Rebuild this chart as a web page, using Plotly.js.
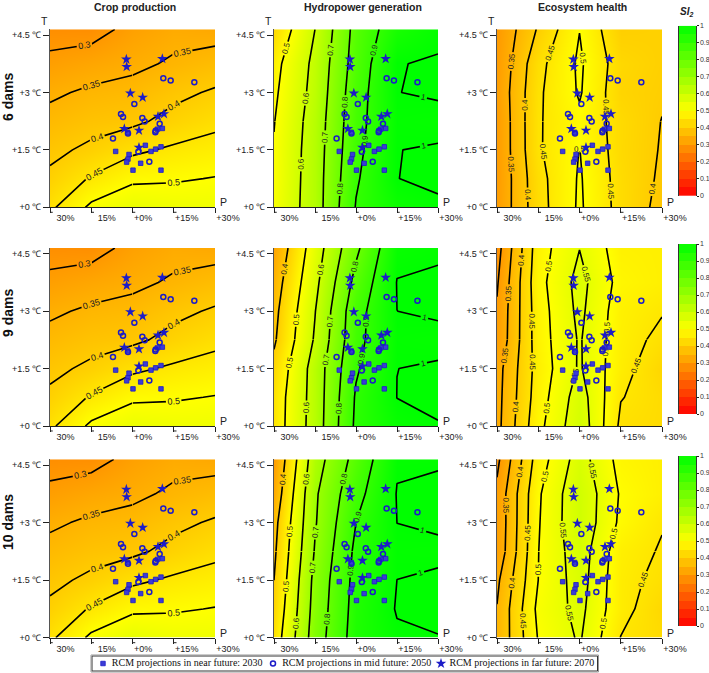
<!DOCTYPE html>
<html><head><meta charset="utf-8">
<script src="https://cdn.plot.ly/plotly-3.0.1.min.js"></script>
<style>html,body{margin:0;padding:0;background:#fff}</style></head>
<body><div id="chart" style="width:709px;height:673px"></div>
<script>
// Climate axis values
const precipChange = [-30,-15,0,15,30];
const tempChange = [0,0.75,1.5,2.25,3,3.75,4.65];
const columnTitles = ["Crop production","Hydropower generation","Ecosystem health"];
const rowTitles = ["6 dams","9 dams","10 dams"];
const precipTickLabels = ["\u00a0\u00a030%","\u00a0\u00a015%","+0%\u00a0\u00a0","+15%","+30%"];
const tempTickValues = [0,1.5,3,4.5];
const tempTickLabels = ["+0 ℃","+1.5 ℃","+3 ℃","+4.5 ℃"];
const legendNames = ["RCM projections in near future: 2030","RCM projections in mid future: 2050","RCM projections in far future: 2070"];

// RCM projections (precipitation change %, temperature change deg C)
const nearP = [-6.12,-1.27,-1.64,-2.12,0.18,2.97,10.36,6.73,8.42,10.36,4.67,10.85,9.03,-1.76];
const nearT = [1.46,1.38,1.26,1.18,0.97,1.15,0.97,1.46,1.52,1.58,1.62,2.06,2.04,1.96];
const midP = [11.2,13.88,22.48,0.67,-4.18,-3.45,3.58,4.42,9.88,8.42,8.3,-7.1,-1.64,2.12,6.12];
const midT = [3.37,3.31,3.27,2.70,2.44,2.36,2.33,2.24,2.18,2.00,1.96,1.80,1.93,1.45,1.19];
const farP = [-2.24,-2.12,10.85,-0.79,3.7,9.27,11.45,-2.97,2.36,2.36];
const farT = [3.865,3.67,3.88,2.98,2.87,2.37,2.44,2.05,2.01,1.56];

// SI2 grids: one row per temperature, one column per precipitation change
const crop6 = [
 [.44,.51,.54,.53,.53],[.41,.455,.49,.495,.502],[.388,.41,.44,.458,.47],[.365,.382,.39,.415,.437],
 [.342,.358,.365,.388,.406],[.312,.326,.34,.356,.371],[.28,.28,.315,.335,.33]];
const crop9 = [
 [.44,.51,.54,.53,.53],[.41,.455,.49,.495,.502],[.388,.41,.44,.458,.47],[.365,.382,.39,.415,.437],
 [.342,.358,.365,.388,.406],[.312,.326,.34,.356,.371],[.28,.28,.315,.335,.33]];
const crop10 = [
 [.44,.51,.545,.53,.53],[.41,.455,.49,.495,.502],[.388,.41,.44,.458,.47],[.365,.382,.39,.415,.437],
 [.342,.358,.366,.388,.406],[.312,.328,.34,.358,.372],[.28,.282,.315,.335,.33]];
const hydro6 = [
 [.515,.65,.905,.975,.993],[.507,.65,.89,.9995,1.008],[.505,.647,.876,.9995,1.003],[.497,.642,.866,.995,.99],
 [.485,.63,.858,.9995,1.004],[.472,.622,.843,.9985,1.004],[.425,.6,.832,.953,.99]];
const hydro9 = [
 [.448,.643,.918,.985,.997],[.445,.64,.91,1.0005,1.012],[.424,.64,.89,.9998,1.004],[.388,.61,.872,.995,.99],
 [.375,.597,.865,.9999,1.005],[.354,.575,.83,1.002,1.008],[.322,.55,.78,.985,.992]];
const hydro10 = [
 [.444,.748,.944,.992,.998],[.42,.736,.937,1.004,1.014],[.4,.727,.93,1.0001,1.006],[.384,.707,.92,.995,.992],
 [.37,.692,.90,1.0001,1.006],[.335,.686,.87,1.003,1.012],[.306,.656,.833,.993,.994]];
const eco6 = [
 [.307,.431,.507,.433,.386],[.305,.434,.505,.431,.393],[.305,.444,.501,.427,.397],[.305,.445,.49,.428,.399],
 [.31,.442,.505,.418,.405],[.305,.435,.508,.424,.408],[.302,.405,.499,.406,.41]];
const eco9 = [
 [.335,.485,.585,.44,.43],[.333,.475,.575,.452,.43],[.33,.47,.556,.466,.42],[.308,.476,.555,.47,.438],
 [.305,.477,.562,.473,.453],[.295,.483,.567,.483,.47],[.28,.477,.549,.474,.47]];
const eco10 = [
 [.355,.503,.556,.449,.43],[.352,.512,.565,.464,.423],[.34,.5,.573,.464,.438],[.313,.499,.578,.47,.446],
 [.31,.496,.59,.49,.453],[.311,.493,.59,.495,.47],[.288,.475,.573,.483,.47]];

const grids = [[crop6,hydro6,eco6],[crop9,hydro9,eco9],[crop10,hydro10,eco10]];
const contourStart = [[.3,.5,.35],[.3,.4,.3],[.3,.4,.3]];
const contourStep = [.05,.1,.05];
const contourEnd = [.5,1,.55];
const colorBarLevels = [.025,.075,.125,.175,.225,.275,.325,.375,.425,.475,.525,.575,.625,.675,.725,.775,.825,.875,.925,.975];
const colorBarTicks = [0,.1,.2,.3,.4,.5,.6,.7,.8,.9,1];

const W=709,H=673;
const colPx=[[50,215],[274,438],[497,662]];
const rowPx=[[29.3,207.3],[248,426],[459.3,637.7]];
const barX=[679,696];
const barY=[[25.7,196],[244,414],[456,626]];
const scale=[[0,'#ff0000'],[.5,'#ffff00'],[1,'#00ff00']];
const blue='#1c1cc8';
const axisFont={family:'"Liberation Sans",Arial,sans-serif',size:9,color:'#222'};

const dx=a=>[a[0]/W,a[1]/W], dy=a=>[1-a[1]/H,1-a[0]/H];
const data=[], layout={width:W,height:H,margin:{l:0,r:0,t:0,b:0,autoexpand:false},paper_bgcolor:'#fff',plot_bgcolor:'#fff',
  font:{family:'"Liberation Sans",Arial,sans-serif'},shapes:[],annotations:[],showlegend:false};
const markers=[
 {p:nearP,t:nearT,m:{symbol:'square',size:4.5,color:'#3c3cd6',line:{color:blue,width:.8}}},
 {p:midP,t:midT,m:{symbol:'circle-open',size:5,color:blue,line:{color:blue,width:1.5}}},
 {p:farP,t:farT,m:{symbol:'star',size:8,color:blue,line:{width:0}}}];

let n=0;
rowPx.forEach((rp,r)=>{ colPx.forEach((cp,c)=>{
  n++; const s=n===1?'':String(n), xa='x'+s, ya='y'+s;
  layout['xaxis'+s]={domain:dx(cp),range:[-30,30],anchor:ya,tickmode:'array',tickvals:precipChange,ticktext:precipTickLabels,
    ticks:'outside',ticklen:5,tickwidth:1,tickcolor:'#222',showline:true,linecolor:'#222',linewidth:1,showgrid:false,zeroline:false,
    tickangle:0,tickfont:axisFont,ticklabelshift:13,ticklabelstandoff:-3,fixedrange:true};
  layout['yaxis'+s]={domain:dy(rp),range:[0,4.65],anchor:xa,tickmode:'array',tickvals:tempTickValues,ticktext:tempTickLabels,
    ticks:'outside',ticklen:6,tickwidth:1,tickcolor:'#222',showline:true,linecolor:'#555',linewidth:1,showgrid:false,zeroline:false,
    tickfont:axisFont,fixedrange:true};
  const z=grids[r][c];
  data.push({type:'heatmap',x:precipChange,y:tempChange,z,xaxis:xa,yaxis:ya,zmin:0,zmax:1,zsmooth:'best',
    colorscale:scale,showscale:false,hoverinfo:'skip'});
  // the same grid is contoured in two sections so that each line carries more than one label
  const sections = c===0
    ? [[0,2],[2,4]].map(([a,b])=>({x:precipChange.slice(a,b+1),y:tempChange,z:z.map(row=>row.slice(a,b+1))}))
    : [[0,3],[3,6]].map(([a,b])=>({x:precipChange,y:tempChange.slice(a,b+1),z:z.slice(a,b+1)}));
  sections.forEach(sec=>data.push({type:'contour',x:sec.x,y:sec.y,z:sec.z,xaxis:xa,yaxis:ya,autocontour:false,showscale:false,hoverinfo:'skip',
    contours:{start:contourStart[r][c],end:contourEnd[c],size:contourStep[c],coloring:'none',showlabels:true,labelformat:'.2~f',
      labelfont:{family:'"Liberation Sans",Arial,sans-serif',size:c===0?9:8,color:'#222'}},
    line:{color:'#000',width:1.6,smoothing:0}}));
  markers.forEach((mk,i)=>{
    data.push({type:'scatter',mode:'markers',x:mk.p,y:mk.t,xaxis:xa,yaxis:ya,marker:mk.m,name:legendNames[i],
      cliponaxis:false,hoverinfo:'skip'});
  });
  precipChange.forEach(v=>layout.shapes.push({type:'line',xref:xa,yref:ya+' domain',x0:v,x1:v+1,y0:-.028,y1:-.028,line:{color:'#222',width:1}}));
  const ann=(text,px,py)=>layout.annotations.push({text,xref:'paper',yref:'paper',x:px/W,y:1-py/H,xanchor:'center',yanchor:'middle',showarrow:false,
    font:{size:10.5,color:'#222'}});
  ann('P',cp[1]+8.5,rp[1]-5);
  if(r===0) ann('T',cp[0]-6,21);
});});

columnTitles.forEach((t,i)=>layout.annotations.push({text:'<b>'+t+'</b>',xref:'paper',yref:'paper',x:[135,363,582][i]/W,y:1-7.5/H,
  xanchor:'center',yanchor:'middle',showarrow:false,font:{size:10.5,color:'#222'}}));
rowTitles.forEach((t,i)=>layout.annotations.push({text:'<b>'+t+'</b>',xref:'paper',yref:'paper',x:8/W,y:1-[97,313,522][i]/H,
  xanchor:'center',yanchor:'middle',textangle:-90,showarrow:false,font:{size:14,color:'#111'}}));
layout.annotations.push({text:'<b><i>SI</i></b><sub><b><i>2</i></b></sub>',xref:'paper',yref:'paper',x:686/W,y:1-12/H,xanchor:'center',yanchor:'middle',
  showarrow:false,font:{size:10,color:'#222'}});

barY.forEach((by,i)=>{
  n++; const s=String(n);
  layout['xaxis'+s]={domain:dx(barX),range:[0,1],anchor:'y'+s,visible:false,fixedrange:true};
  layout['yaxis'+s]={domain:dy(by),range:[0,1],anchor:'x'+s,side:'right',tickmode:'array',tickvals:colorBarTicks,ticktext:colorBarTicks.map(String),
    ticks:'outside',ticklen:1.5,tickcolor:'#222',showline:true,mirror:true,linecolor:'#333',linewidth:1,showgrid:false,zeroline:false,
    tickfont:{family:'"Liberation Sans",Arial,sans-serif',size:7,color:'#333'},fixedrange:true};
  data.push({type:'heatmap',x:[.5],y:colorBarLevels,z:colorBarLevels.map(v=>[v]),xaxis:'x'+s,yaxis:'y'+s,zmin:0,zmax:1,colorscale:scale,showscale:false,hoverinfo:'skip'});
});

// legend strip: its own small axes holding one sample marker and name per series
n++; const ls=String(n);
layout['xaxis'+ls]={domain:[0,1],range:[0,W],anchor:'y'+ls,visible:false,fixedrange:true};
layout['yaxis'+ls]={domain:dy([655,672]),range:[0,1],anchor:'x'+ls,visible:false,fixedrange:true};
const legendX=[103,273,441];
const legendPad=['\u00a0\u00a0','\u00a0\u00a0','\u00a0'];
markers.forEach((mk,i)=>data.push({type:'scatter',mode:'markers+text',x:[legendX[i]],y:[.5],xaxis:'x'+ls,yaxis:'y'+ls,marker:mk.m,
  text:[legendPad[i]+legendNames[i]],textposition:'middle right',cliponaxis:false,hoverinfo:'skip',
  textfont:{family:'"Liberation Serif","Times New Roman",serif',size:10,color:'#111'}}));
layout.shapes.push({type:'rect',xref:'paper',yref:'paper',x0:92/W,x1:597.5/W,y0:1-671/H,y1:1-656/H,line:{color:'#333',width:1}});
layout.shapes.push({type:'rect',xref:'paper',yref:'paper',x0:91/W,x1:598.5/W,y0:1-672/H,y1:1-655/H,line:{color:'#999',width:1}});

Plotly.newPlot('chart',data,layout,{displayModeBar:false,staticPlot:true});
</script></body></html>
